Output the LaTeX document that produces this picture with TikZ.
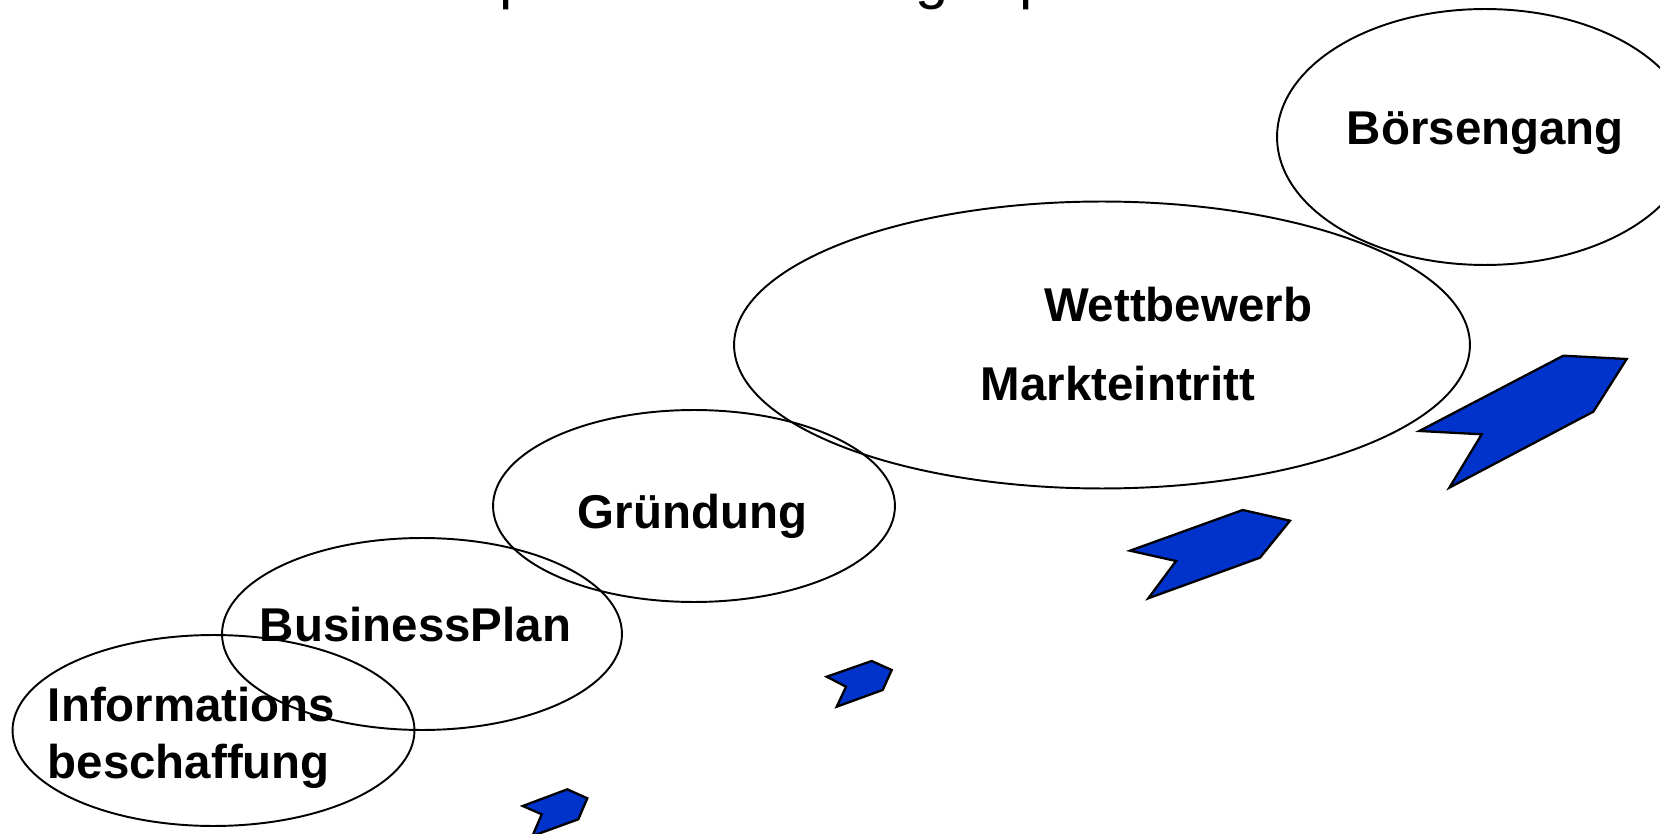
\documentclass[tikz,border=0pt]{standalone}
\usepackage{fontspec}
\setmainfont{Liberation Sans}
\usetikzlibrary{shapes.geometric}
\definecolor{pfeilblau}{RGB}{0,51,204}

\begin{document}
\begin{tikzpicture}[x=0.02cm,y=-0.02cm,
  stage/.style={draw,ellipse,line width=1.1pt,inner sep=0pt},
  lbl/.style={font=\fontsize{27}{32}\selectfont\bfseries,inner sep=0pt,anchor=base},
  pfeil/.style={draw,fill=pfeilblau,line width=1.3pt,line join=miter}]
\useasboundingbox (0,0) rectangle (1660,834);
% title line, only its descenders reach into the picture
\begin{scope}
\clip (0,0) rectangle (1660,834);
\node[font=\fontsize{34}{40}\selectfont,inner sep=0pt,anchor=base west] (tp1) at (499,-2) {p};
\node[font=\fontsize{34}{40}\selectfont,inner sep=0pt,anchor=base west] (tg) at (915,-2) {g};
\node[font=\fontsize{34}{40}\selectfont,inner sep=0pt,anchor=base west] (tp2) at (1019,-2) {p};
\end{scope}
% stages
\node[stage,minimum width=8.04cm,minimum height=3.82cm] (info) at (213.5,730.5) {};
\node[stage,minimum width=8.00cm,minimum height=3.84cm] (plan) at (422,634) {};
\node[stage,minimum width=8.04cm,minimum height=3.84cm] (gruend) at (694,506) {};
\node[stage,minimum width=14.72cm,minimum height=5.74cm] (markt) at (1102,345) {};
\node[stage,minimum width=8.32cm,minimum height=5.12cm] (boerse) at (1485,137) {};
% labels
\node[lbl,anchor=base west] (infoA) at (47.5,721) {Informations};
\node[lbl,anchor=base west] (infoB) at (47.5,778.3) {beschaffung};
\node[lbl] (planL) at (415.5,641.7) {BusinessPlan};
\node[lbl] (gruendL) at (692.5,528.3) {Gründung};
\node[lbl] (wettL) at (1178,322) {Wettbewerb};
\node[lbl] (marktL) at (1118,400.7) {Markteintritt};
\node[lbl] (boerseL) at (1485.3,145) {Börsengang};
% arrows, growing to the upper right
\draw[pfeil] (522.7,806) -- (541.7,814.3) -- (532.4,836) -- (578.3,819.3) -- (587.3,798.3) -- (567.3,789.3) -- cycle;
\draw[pfeil] (826.7,676.7) -- (846,686.7) -- (836.7,706.7) -- (882.7,690) -- (891.7,670) -- (871.7,661) -- cycle;
\draw[pfeil] (1130,550.7) -- (1176,561) -- (1148.3,598.3) -- (1260,557.7) -- (1290,520.7) -- (1242.7,510) -- cycle;
\draw[pfeil] (1419.3,431) -- (1481.7,434.3) -- (1449.3,487.7) -- (1593.3,411.7) -- (1626.7,359) -- (1563.3,355.7) -- cycle;
\end{tikzpicture}
\end{document}
